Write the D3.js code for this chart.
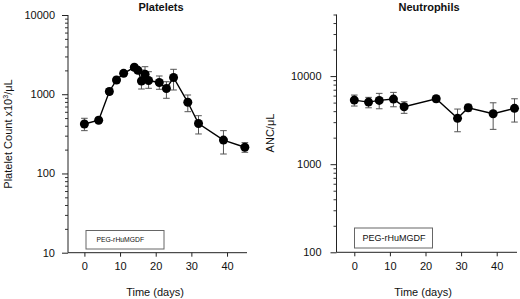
<!DOCTYPE html>
<html>
<head>
<meta charset="utf-8">
<script src="https://cdn.jsdelivr.net/npm/d3@7"></script>
<style>
  html, body { margin: 0; padding: 0; background: #fff; }
  svg { display: block; font-family: "Liberation Sans", Arial, sans-serif; }
</style>
</head>
<body>
<svg id="chart" width="520" height="299"></svg>
<script>
// ---- Data ----
const plateletDays = [0, 4, 7, 9, 11, 14, 15, 16, 17, 18, 21, 23, 25, 29, 32, 39, 45];
const plateletMean = [421, 469, 1083, 1513, 1837, 2188, 2004, 1469, 1785, 1490, 1406, 1181, 1626, 791, 427, 264, 214];
const plateletLow  = [347, 440, 1000, 1400, 1700, 2030, 1860, 1164, 1440, 1188, 1154, 889, 1131, 602, 315, 176, 185];
const plateletHigh = [497, 510, 1170, 1630, 1980, 2350, 2160, 2022, 2226, 1924, 1699, 1439, 2064, 978, 536, 347, 245];

const ancDays = [0, 4, 7, 11, 14, 23, 29, 32, 39, 45];
const ancMean = [5343, 5070, 5300, 5484, 4484, 5527, 3313, 4368, 3735, 4303];
const ancLow  = [4571, 4366, 4256, 4484, 3777, 5100, 2334, 4000, 2485, 3008];
const ancHigh = [6090, 5735, 6365, 6531, 5110, 5950, 4224, 4780, 4977, 5527];

const xTicks = [0, 10, 20, 30, 40];
const plateletMajor = [10, 100, 1000, 10000];
const ancMajor = [100, 1000, 10000];

const svg = d3.select("#chart");

function minorTicks(lo, hi) {
  const out = [];
  for (let d = lo; d < hi; d *= 10) {
    for (let k = 2; k <= 9; k++) {
      if (d * k <= hi) out.push(d * k);
    }
  }
  return out;
}

function panel(opts) {
  const x = d3.scaleLinear().domain(opts.xDomain).range(opts.xRange);
  const y = d3.scaleLog().domain(opts.yDomain).range(opts.yRange);
  const g = svg.append("g");

  // minor y ticks
  const minorAxis = d3.axisLeft(y).tickValues(minorTicks(opts.yDomain[0], opts.yDomain[1]))
    .tickSize(3).tickFormat("");
  g.append("g").attr("transform", `translate(${opts.xRange[0]},0)`).call(minorAxis)
    .call(s => s.select(".domain").remove())
    .call(s => s.selectAll("line").attr("stroke", "#333"));

  // major y ticks
  const majorAxis = d3.axisLeft(y).tickValues(opts.major).tickSize(6).tickPadding(opts.yPad)
    .tickFormat(d3.format("d"));
  g.append("g").attr("transform", `translate(${opts.xRange[0]},0)`).call(majorAxis)
    .call(s => s.select(".domain").attr("d", `M0,${opts.yRange[1]}V${opts.yRange[0]}`).attr("stroke", "#222"))
    .call(s => s.selectAll("line").attr("stroke", "#222"))
    .call(s => s.selectAll("text").attr("font-size", 11).attr("fill", "#111")
      .attr("font-family", "'Liberation Sans', Arial, sans-serif"));

  // x axis
  const xAxis = d3.axisBottom(x).tickValues(xTicks).tickSize(4).tickPadding(6);
  g.append("g").attr("transform", `translate(0,${opts.yRange[0]})`).call(xAxis)
    .call(s => s.select(".domain").attr("d", `M${opts.xRange[0]},0H${opts.xRange[1]}`).attr("stroke", "#222"))
    .call(s => s.selectAll("line").attr("stroke", "#222"))
    .call(s => s.selectAll("text").attr("font-size", 11).attr("fill", "#111")
      .attr("font-family", "'Liberation Sans', Arial, sans-serif"));

  // title
  g.append("text").attr("x", opts.titleX).attr("y", 11).attr("text-anchor", "middle")
    .attr("font-size", 11).attr("font-weight", "bold").attr("fill", "#111").text(opts.title);

  // x label
  g.append("text").attr("x", opts.xLabelX).attr("y", 296).attr("text-anchor", "middle")
    .attr("font-size", 11).attr("fill", "#111").text("Time (days)");

  // y label
  g.append("text").attr("transform", `translate(${opts.yLabelX},${opts.yLabelY}) rotate(-90)`)
    .attr("text-anchor", "middle").attr("font-size", 11).attr("fill", "#111")
    .html(opts.yLabelHtml);

  // legend box
  g.append("rect").attr("x", opts.box[0]).attr("y", opts.box[1]).attr("width", opts.box[2]).attr("height", opts.box[3])
    .attr("fill", "#fff").attr("stroke", "#666").attr("stroke-width", 1);
  g.append("text").attr("x", opts.boxTextX).attr("y", opts.box[1] + opts.box[3] / 2 + opts.boxFont * 0.35)
    .attr("font-size", opts.boxFont).attr("fill", "#111").text("PEG-rHuMGDF");

  // error bars
  const eb = g.append("g").attr("stroke", "#555").attr("stroke-width", 1).attr("fill", "none");
  opts.days.forEach((d, i) => {
    const cx = x(d), y1 = y(opts.low[i]), y2 = y(opts.high[i]);
    eb.append("line").attr("x1", cx).attr("x2", cx).attr("y1", y1).attr("y2", y2);
    eb.append("line").attr("x1", cx - 3.3).attr("x2", cx + 3.3).attr("y1", y1).attr("y2", y1);
    eb.append("line").attr("x1", cx - 3.3).attr("x2", cx + 3.3).attr("y1", y2).attr("y2", y2);
  });

  // line
  const pts = opts.days.map((d, i) => [x(d), y(opts.mean[i])]);
  g.append("path").attr("d", d3.line()(pts)).attr("fill", "none").attr("stroke", "#000").attr("stroke-width", 1.4);

  // markers
  g.selectAll("circle.m").data(pts).enter().append("circle")
    .attr("cx", p => p[0]).attr("cy", p => p[1]).attr("r", 4.5).attr("fill", "#000");
}

panel({
  xDomain: [-4.6, 45.6], xRange: [68, 247],
  yDomain: [10, 10000], yRange: [252.7, 15],
  major: plateletMajor, yPad: 7,
  title: "Platelets", titleX: 161,
  xLabelX: 155,
  yLabelX: 12, yLabelY: 134,
  yLabelHtml: 'Platelet Count x10<tspan dy="-4" font-size="7">3</tspan><tspan dy="4">/μL</tspan>',
  box: [86, 230.5, 78, 18.5], boxTextX: 96.5, boxFont: 6.8,
  days: plateletDays, mean: plateletMean, low: plateletLow, high: plateletHigh
});

panel({
  xDomain: [-5, 45.7], xRange: [336.5, 517],
  yDomain: [100, 50000], yRange: [252.3, 14.5],
  major: ancMajor, yPad: 9,
  title: "Neutrophils", titleX: 429,
  xLabelX: 423,
  yLabelX: 274, yLabelY: 133,
  yLabelHtml: 'ANC/μL',
  box: [354.5, 228, 78, 20], boxTextX: 362.5, boxFont: 9,
  days: ancDays, mean: ancMean, low: ancLow, high: ancHigh
});
</script>
</body>
</html>
